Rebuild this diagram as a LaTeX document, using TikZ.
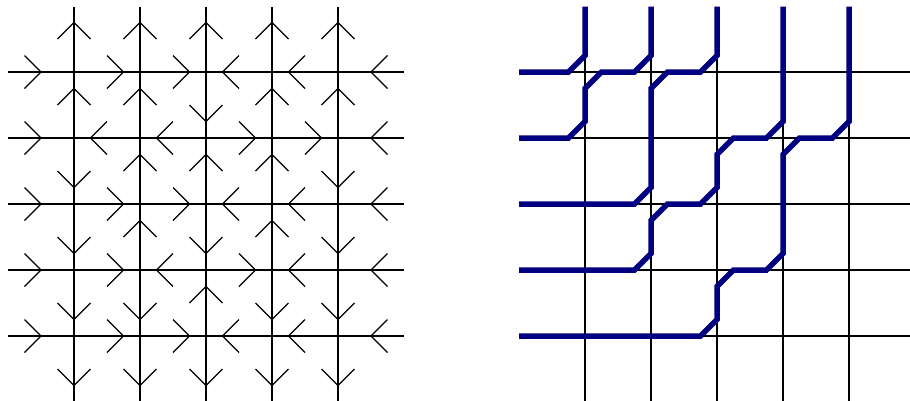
\documentclass[tikz,border=0pt]{standalone}
\definecolor{pathblue}{RGB}{0,0,128}
\tikzset{
  gridline/.style={line width=1.1pt, black},
  chevline/.style={line width=1.1pt, black},
  lpath/.style={line width=5.5pt, pathblue},
}
\newcommand{\chev}[4]{\draw[chevline] ({#1-16.5*(#3)+16.5*(#4)},{#2-16.5*(#4)+16.5*(#3)}) -- (#1,#2) -- ({#1-16.5*(#3)-16.5*(#4)},{#2-16.5*(#4)-16.5*(#3)});}
\begin{document}
\begin{tikzpicture}[x=1pt,y=-1pt]
\useasboundingbox (0,0) rectangle (910,400);
% ---------- left: arrow configuration ----------
\foreach \r in {72,138,204,270,336}{
  \draw[gridline] (8,\r) -- (404,\r);
}
\foreach \c in {74,140,206,272,338}{
  \draw[gridline] (\c,6.5) -- (\c,402);
}
\foreach \r/\d in {72/{1,1,1,-1,-1,-1},138/{1,-1,-1,1,1,-1},204/{1,1,1,-1,-1,-1},270/{1,1,-1,1,-1,-1},336/{1,1,1,-1,-1,-1}}{
  \foreach \s [count=\k from 0] in \d {
    \pgfmathsetmacro\tx{41+66*\k+16.5*\s*((\k>0)*(\k<5))}
    \chev{\tx}{\r}{\s}{0}
  }
}
\foreach \c/\d in {74/{-1,-1,1,1,1,1},140/{-1,-1,-1,-1,1,1},206/{-1,1,-1,1,-1,1},272/{-1,-1,-1,-1,1,1},338/{-1,-1,1,1,1,1}}{
  \foreach \s [count=\k from 0] in \d {
    \pgfmathsetmacro\ty{39+66*\k+16.5*\s}
    \chev{\c}{\ty}{0}{\s}
  }
}
% ---------- right: lattice paths ----------
\foreach \r in {72,138,204,270,336}{
  \draw[gridline] (519,\r) -- (915,\r);
}
\foreach \c in {585,651,717,783,849}{
  \draw[gridline] (\c,6.5) -- (\c,402);
}
\draw[lpath] (519,72) -- (568.5,72) -- (585,55.5) -- (585,6.5);
\draw[lpath] (519,138) -- (568.5,138) -- (585,121.5) -- (585,88.5) -- (601.5,72) -- (634.5,72) -- (651,55.5) -- (651,6.5);
\draw[lpath] (519,204) -- (634.5,204) -- (651,187.5) -- (651,88.5) -- (667.5,72) -- (700.5,72) -- (717,55.5) -- (717,6.5);
\draw[lpath] (519,270) -- (634.5,270) -- (651,253.5) -- (651,220.5) -- (667.5,204) -- (700.5,204) -- (717,187.5) -- (717,154.5) -- (733.5,138) -- (766.5,138) -- (783,121.5) -- (783,6.5);
\draw[lpath] (519,336) -- (700.5,336) -- (717,319.5) -- (717,286.5) -- (733.5,270) -- (766.5,270) -- (783,253.5) -- (783,154.5) -- (799.5,138) -- (832.5,138) -- (849,121.5) -- (849,6.5);
\end{tikzpicture}
\end{document}
